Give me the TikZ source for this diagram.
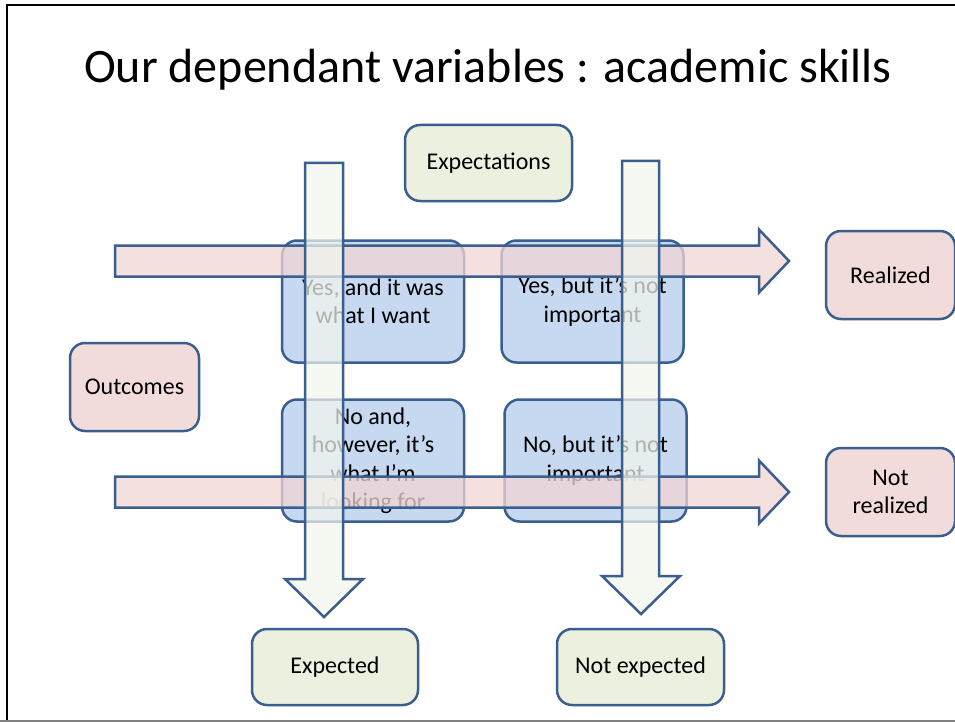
\documentclass[tikz,border=0pt]{standalone}
\usepackage{fontspec}
\setmainfont{Carlito}
\definecolor{edge}{HTML}{3A5F8F}
\definecolor{greenfill}{HTML}{EBF1DE}
\definecolor{pinkfill}{HTML}{F2DCDB}
\definecolor{bluefill}{HTML}{C6D9F1}
\definecolor{arrowgreen}{HTML}{F3F6EE}
\definecolor{arrowpink}{HTML}{F2D6D6}
\tikzset{
  box/.style={draw=edge, line width=2.5pt, rounded corners=15pt, align=center,
    inner sep=2pt, font=\fontsize{24}{28.5}\selectfont},
  gbox/.style={box, fill=greenfill},
  pbox/.style={box, fill=pinkfill},
  bbox/.style={box, fill=bluefill, minimum width=182pt, minimum height=122pt},
  harrow/.style={draw=edge, line width=2.5pt, fill=arrowpink, fill opacity=0.75},
  varrow/.style={draw=edge, line width=2.5pt, fill=arrowgreen, fill opacity=0.72},
}
\begin{document}
\begin{tikzpicture}[x=1pt,y=-1pt]
\useasboundingbox (0,0) rectangle (955,722);
\fill[white] (0,0) rectangle (955,722);
% slide frame
\draw[black, line width=1.6pt] (7,722) -- (7,5) -- (955,5);
\draw[gray, line width=1.6pt] (0,721) -- (955,721);
% title
\node (title) at (488,70) {\fontsize{48}{56}\selectfont Our dependant variables : academic skills};
% label boxes
\node[gbox, minimum width=167pt, minimum height=76pt] (expectations) at (488.5,163) {Expectations};
\node[pbox, minimum width=129pt, minimum height=88pt] (outcomes) at (134.5,387) {Outcomes};
\node[pbox, minimum width=129pt, minimum height=88pt] (realized) at (890.5,275) {Realized};
\node[pbox, minimum width=129pt, minimum height=88pt] (notrealized) at (890.5,492) {Not\\realized};
\node[gbox, minimum width=166pt, minimum height=76pt] (expected) at (335,667) {Expected};
\node[gbox, minimum width=167pt, minimum height=76pt] (notexpected) at (640.5,667) {Not expected};
% quadrant boxes
\node[bbox] (yy) at (373,301.5) {Yes, and it was\\what I want};
\node[bbox] (yn) at (592.5,301.5) {Yes, but it’s not\\important};
\node[bbox] (ny) at (373,460.5) {No and,\\however, it’s\\what I’m\\looking for};
\node[bbox] (nn) at (595.5,460.5) {No, but it’s not\\important};
% horizontal block arrows
\draw[harrow] (115,245.5) -- (759,245.5) -- (759,229.5) -- (789,261) -- (759,292.5) -- (759,276.5) -- (115,276.5) -- cycle;
\draw[harrow] (115,476.5) -- (759,476.5) -- (759,460.5) -- (789,492) -- (759,523.5) -- (759,507.5) -- (115,507.5) -- cycle;
% vertical block arrows
\draw[varrow] (305,163) -- (343,163) -- (343,579) -- (363,579) -- (324,617) -- (285,579) -- (305,579) -- cycle;
\draw[varrow] (622,161) -- (659,161) -- (659,576) -- (680,576) -- (641,614) -- (602,576) -- (622,576) -- cycle;
\end{tikzpicture}
\end{document}
